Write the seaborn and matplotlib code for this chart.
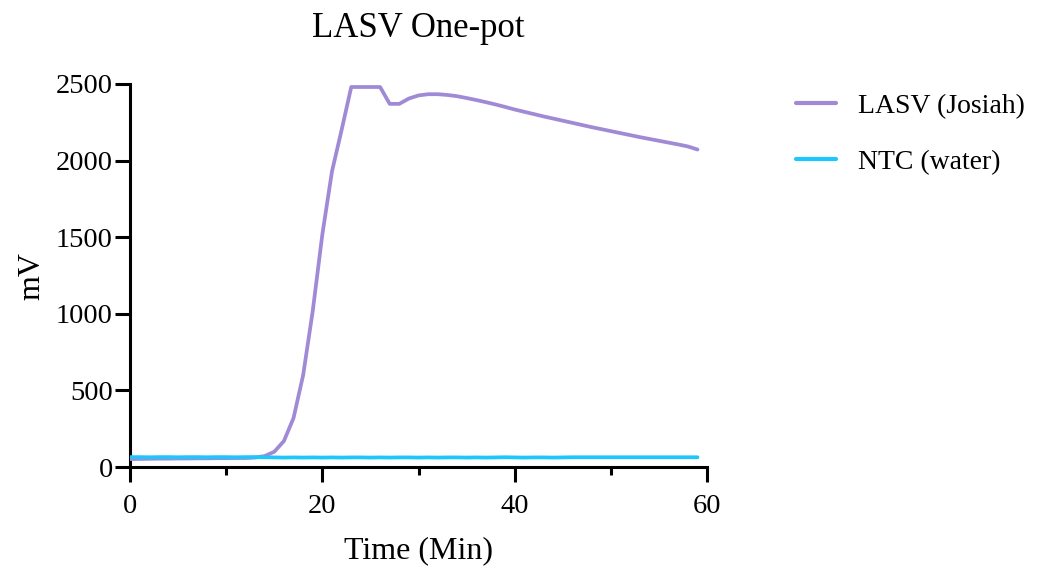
import numpy as np
import pandas as pd
import matplotlib
matplotlib.use("Agg")
import matplotlib.pyplot as plt
import seaborn as sns
from matplotlib.ticker import MultipleLocator

# ---- data ----
time_min = list(range(0, 60))
lasv_josiah = [52, 53, 54, 55, 55, 56, 56, 57, 57, 58,
               58, 59, 59, 62, 72, 100, 170, 320, 600, 1020,
               1520, 1930, 2200, 2480, 2480, 2480, 2480, 2370, 2370, 2405,
               2425, 2433, 2433, 2428, 2420, 2408, 2395, 2381, 2366, 2350,
               2333, 2318, 2303, 2288, 2274, 2260, 2246, 2232, 2218, 2205,
               2192, 2179, 2166, 2153, 2141, 2129, 2117, 2105, 2092, 2072]
ntc_water = [65, 65, 64, 65, 65, 64, 65, 65, 64, 65,
             65, 64, 65, 65, 64, 63, 62, 63, 62, 63,
             62, 63, 62, 63, 63, 62, 63, 62, 63, 63,
             62, 63, 62, 63, 63, 62, 63, 62, 63, 64,
             63, 62, 63, 63, 62, 63, 64, 64, 64, 64,
             64, 64, 64, 64, 64, 64, 64, 64, 64, 64]
series_names = ["LASV (Josiah)", "NTC (water)"]
series_colors = ["#a08ad6", "#1ec6fb"]
x_ticks = [0, 20, 40, 60]
y_ticks = [0, 500, 1000, 1500, 2000, 2500]

df = pd.DataFrame({
    "Time": time_min * 2,
    "mV": lasv_josiah + ntc_water,
    "Series": [series_names[0]] * len(time_min) + [series_names[1]] * len(time_min),
})

sns.set_theme(style="ticks")
plt.rcParams["font.family"] = ["Liberation Serif", "DejaVu Serif"]
plt.rcParams["text.color"] = "black"

fig = plt.figure(figsize=(10.57, 5.71), dpi=100)
ax = fig.add_axes([0.123, 0.182, 0.546, 0.671])

sns.lineplot(data=df, x="Time", y="mV", hue="Series",
             palette=dict(zip(series_names, series_colors)),
             linewidth=2.7, ax=ax, legend=True, zorder=3)

ax.set_xlim(0, 60)
ax.set_ylim(0, 2500)
ax.set_xticks(x_ticks)
ax.set_yticks(y_ticks)
ax.xaxis.set_minor_locator(MultipleLocator(10))
ax.tick_params(axis="both", which="major", length=10.5, width=2.2,
               labelsize=20.5, color="black", labelcolor="black", pad=2)
ax.tick_params(axis="x", which="major", pad=9)
ax.tick_params(axis="x", which="minor", length=6, width=2.2, color="black")
for side in ["left", "bottom"]:
    ax.spines[side].set_linewidth(2.2)
    ax.spines[side].set_color("black")
for side in ["top", "right"]:
    ax.spines[side].set_visible(False)
for sp in ax.spines.values():
    sp.set_clip_on(False)

ax.set_xlabel("Time (Min)", fontsize=23, labelpad=12, color="black")
ax.set_ylabel("mV", fontsize=23, labelpad=7, color="black")
ax.set_title("LASV One-pot", fontsize=25, pad=34, color="black")

leg = ax.legend(loc="upper left", bbox_to_anchor=(0.729, 0.88),
                bbox_transform=fig.transFigure, frameon=False,
                fontsize=20, handlelength=1.45, handletextpad=0.8,
                labelspacing=1.1)
for text in leg.get_texts():
    text.set_color("black")
for line in leg.get_lines():
    line.set_linewidth(3.0)

fig.savefig("out.png", dpi=100)
